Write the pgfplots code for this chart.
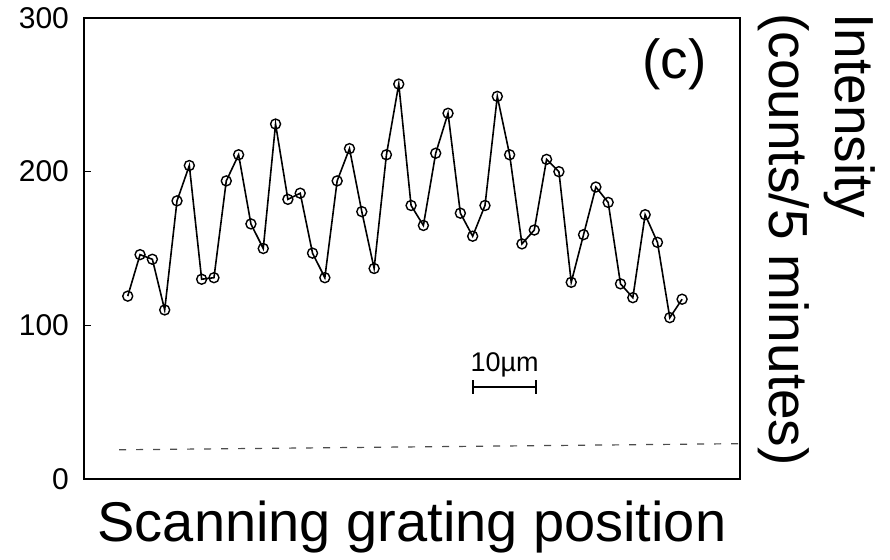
\documentclass[border=0pt]{standalone}
\usepackage{fontspec}
\setmainfont{Liberation Sans}
\usepackage{pgfplots}
\pgfplotsset{compat=1.18}
\begin{document}
\begin{tikzpicture}
\begin{axis}[
  at={(0,0)}, anchor=south west,
  scale only axis,
  width=328pt, height=230.5pt,
  xmin=-2.55, xmax=50.7,
  ymin=0, ymax=300,
  xtick=\empty,
  ytick={0,100,200,300},
  ytick pos=left,
  tick align=inside,
  major tick length=3.5pt,
  axis line style={line width=1.3pt},
  every tick/.style={black, line width=0.6pt},
  /pgf/number format/assume math mode=true,
  yticklabel style={font=\fontsize{15}{18}\selectfont, xshift=-4pt},
  xlabel={Scanning grating position},
  every axis x label/.style={at={(axis description cs:0.5,0)}, anchor=base, yshift=-31pt, font=\fontsize{28}{32}\selectfont},
  ylabel={Intensity\\(counts/5 minutes)},
  every axis y label/.style={at={(axis description cs:1,1)}, xshift=9pt, yshift=2.5pt, rotate=-90, anchor=south west, align=left, inner sep=0pt, font=\fontsize{27.5}{33}\selectfont},
  clip=false,
]
\addplot[black, line width=0.8pt, mark=o, mark size=2.5pt, mark options={fill=white, line width=0.7pt}] coordinates {
(1,119) (2,146) (3,143) (4,110) (5,181) (6,204) (7,130) (8,131) (9,194) (10,211)
(11,166) (12,150) (13,231) (14,182) (15,186) (16,147) (17,131) (18,194) (19,215) (20,174)
(21,137) (22,211) (23,257) (24,178) (25,165) (26,212) (27,238) (28,173) (29,158) (30,178)
(31,249) (32,211) (33,153) (34,162) (35,208) (36,200) (37,128) (38,159) (39,190) (40,180)
(41,127) (42,118) (43,172) (44,154) (45,105) (46,117)
};
\addplot[black!70, line width=0.6pt, dash pattern=on 3.5pt off 5pt] coordinates {(0.3,19) (50.7,23)};
\draw[|-|, line width=0.8pt] (axis cs:28.95,60) -- (axis cs:34.2,60);
\node[font=\fontsize{13.5}{15}\selectfont, anchor=base] at (axis cs:31.6,70) {10µm};
\node[font=\fontsize{27.5}{31.6}\selectfont] at (axis cs:45.4,270) {(c)};
\end{axis}
\path (-42pt,-40pt) rectangle (403pt,239.5pt);
\end{tikzpicture}
\end{document}
